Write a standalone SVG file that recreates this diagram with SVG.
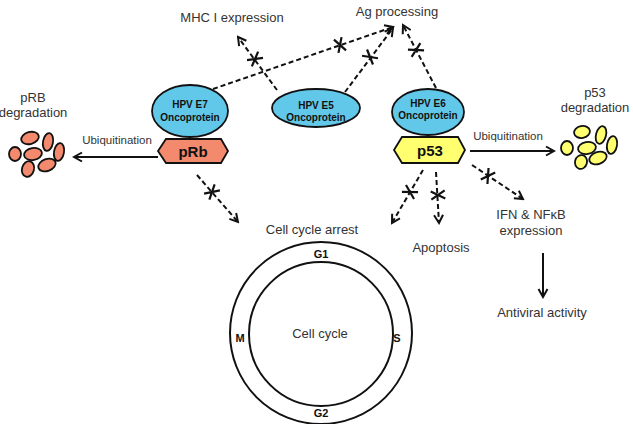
<svg xmlns="http://www.w3.org/2000/svg" width="633" height="424" viewBox="0 0 633 424">
<style>
text{font-family:"Liberation Sans",Arial,sans-serif;fill:#333}
.t{font-size:13px}
.u{font-size:11.5px}
.b{font-weight:bold;fill:#111}
.on{font-size:10px;font-weight:bold;fill:#111}
.dash{stroke:#111;stroke-width:2;stroke-dasharray:5 3;fill:none;marker-end:url(#ah)}
.sol{stroke:#111;stroke-width:2;fill:none;marker-end:url(#ah)}
.onc{fill:#62c8ea;stroke:#111;stroke-width:1.8}
.rb{fill:#f3896d;stroke:#111;stroke-width:1.8}
.p{fill:#ffff70;stroke:#111;stroke-width:1.8}
.ring{fill:none;stroke:#111;stroke-width:2}
</style>
<defs>
<marker id="ah" markerUnits="userSpaceOnUse" markerWidth="12" markerHeight="12" refX="10" refY="6" orient="auto">
<path d="M2,1.5 L10,6 L2,10.5" fill="none" stroke="#111" stroke-width="2" stroke-dasharray="none"/>
</marker>
<path id="x" d="M-4,-7 L4,7 M4,-7 L-4,7" stroke="#111" stroke-width="2.2" fill="none"/>
</defs>

<g id="connectors">
<path class="dash" d="M213,89 L393,27"/>
<path class="dash" d="M277,90 L238,37"/>
<path class="dash" d="M345,92 L393,28"/>
<path class="dash" d="M436,88 L403,25"/>
<path class="dash" d="M197,175 L238,222"/>
<path class="dash" d="M423,170 L392,223"/>
<path class="dash" d="M436,172 L439,223"/>
<path class="dash" d="M472,165 L523,199"/>
<path class="sol" d="M158,157 L74,157"/>
<path class="sol" d="M470,151 L554,151"/>
<path class="sol" d="M543,253 L543,297"/>
<use href="#x" transform="translate(340,45) rotate(-18.7)"/>
<use href="#x" transform="translate(255,59) rotate(-127.4)"/>
<use href="#x" transform="translate(370,57) rotate(-51.3)"/>
<use href="#x" transform="translate(416,50) rotate(-117.6)"/>
<use href="#x" transform="translate(212,192) rotate(48.9)"/>
<use href="#x" transform="translate(410,192) rotate(120.3)"/>
<use href="#x" transform="translate(438,195) rotate(85.5)"/>
<use href="#x" transform="translate(488,176) rotate(33.7)"/>
</g>

<g id="labels">
<text class="t" x="232" y="22" text-anchor="middle">MHC I expression</text>
<text class="t" x="397" y="16" text-anchor="middle">Ag processing</text>
<text class="u" x="117" y="144" text-anchor="middle">Ubiquitination</text>
<text class="u" x="508" y="140" text-anchor="middle">Ubiquitination</text>
<text class="t" x="312" y="234" text-anchor="middle">Cell cycle arrest</text>
<text class="t" x="441" y="252" text-anchor="middle">Apoptosis</text>
<text class="t" x="531" y="219" text-anchor="middle">IFN &amp; NFκB</text>
<text class="t" x="531" y="235" text-anchor="middle">expression</text>
<text class="t" x="542" y="317" text-anchor="middle">Antiviral activity</text>
</g>

<g id="prb-degradation">
<text class="t" x="33" y="102" text-anchor="middle">pRB</text>
<text class="t" x="33" y="117" text-anchor="middle">degradation</text>
<g class="rb">
<ellipse cx="30" cy="138" rx="9" ry="6" transform="rotate(-15 30 138)"/>
<ellipse cx="48" cy="142" rx="5" ry="9" transform="rotate(10 48 142)"/>
<ellipse cx="15" cy="154" rx="6" ry="7"/>
<ellipse cx="33" cy="154" rx="9" ry="6" transform="rotate(-10 33 154)"/>
<ellipse cx="59" cy="152" rx="5" ry="9" transform="rotate(10 59 152)"/>
<ellipse cx="28" cy="169" rx="6" ry="8" transform="rotate(15 28 169)"/>
<ellipse cx="47" cy="165" rx="9" ry="6" transform="rotate(-20 47 165)"/>
</g>
</g>

<g id="p53-degradation">
<text class="t" x="595" y="97" text-anchor="middle">p53</text>
<text class="t" x="595" y="112" text-anchor="middle">degradation</text>
<g class="p">
<ellipse cx="582" cy="132" rx="8" ry="6" transform="rotate(-10 582 132)"/>
<ellipse cx="601" cy="135" rx="5" ry="9" transform="rotate(15 601 135)"/>
<ellipse cx="567" cy="148" rx="6" ry="7"/>
<ellipse cx="587" cy="148" rx="9" ry="6" transform="rotate(-10 587 148)"/>
<ellipse cx="612" cy="145" rx="5" ry="9" transform="rotate(10 612 145)"/>
<ellipse cx="581" cy="162" rx="6" ry="7" transform="rotate(15 581 162)"/>
<ellipse cx="598" cy="158" rx="9" ry="6" transform="rotate(-20 598 158)"/>
</g>
</g>

<g id="e7">
<ellipse class="onc" cx="190" cy="111" rx="38" ry="26"/>
<text class="on" x="190" y="108" text-anchor="middle">HPV E7</text>
<text class="on" x="190" y="121" text-anchor="middle">Oncoprotein</text>
</g>
<g id="prb">
<polygon class="rb" points="158,151 166,139 221,139 228,151 221,163 166,163"/>
<text class="b" x="193" y="157" text-anchor="middle" font-size="15">pRb</text>
</g>
<g id="e5">
<ellipse class="onc" cx="316" cy="108" rx="44" ry="19"/>
<text class="on" x="316" y="109" text-anchor="middle">HPV E5</text>
<text class="on" x="316" y="121" text-anchor="middle">Oncoprotein</text>
</g>
<g id="e6">
<ellipse class="onc" cx="428" cy="112" rx="36" ry="23"/>
<text class="on" x="428" y="107" text-anchor="middle">HPV E6</text>
<text class="on" x="428" y="119" text-anchor="middle">Oncoprotein</text>
</g>
<g id="p53">
<polygon class="p" points="394,150 402,137 458,137 465,150 458,163 402,163"/>
<text class="b" x="430" y="156" text-anchor="middle" font-size="15">p53</text>
</g>

<g id="cell-cycle">
<circle class="ring" cx="321" cy="333" r="91"/>
<circle class="ring" cx="321" cy="334" r="72"/>
<text class="b" x="321" y="258" text-anchor="middle" font-size="11">G1</text>
<text class="b" x="321" y="417" text-anchor="middle" font-size="11">G2</text>
<text class="b" x="240" y="342" text-anchor="middle" font-size="11">M</text>
<text class="b" x="397" y="342" text-anchor="middle" font-size="11">S</text>
<text class="t" x="320" y="338" text-anchor="middle">Cell cycle</text>
</g>
</svg>
